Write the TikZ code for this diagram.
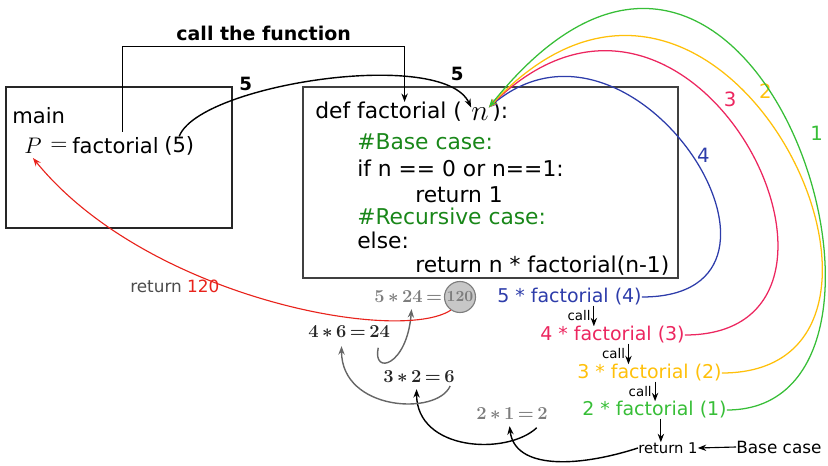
\documentclass[tikz,border=0pt]{standalone}
\usepackage{fix-cm}
\usepackage{amsmath}
\usepackage{fontspec}
\setmainfont{DejaVu Sans}
\usepackage{tikz}
\usetikzlibrary{arrows.meta,positioning,calc}
\usepackage{xcolor}

\definecolor{callblue}{RGB}{45,60,170}
\definecolor{callpink}{RGB}{236,38,95}
\definecolor{callgold}{RGB}{255,192,10}
\definecolor{callgreen}{RGB}{55,190,55}
\definecolor{cmtgreen}{RGB}{25,135,25}
\definecolor{retred}{RGB}{232,35,28}
\definecolor{mathgray}{RGB}{125,125,125}

\newcommand{\tightops}[1]{$\medmuskip=3mu\relax\thickmuskip=3mu\relax #1$}

\begin{document}
\begin{tikzpicture}[x=0.025cm, y=-0.025cm, >={Stealth[length=6pt,width=4.5pt]},
  txt/.style={inner sep=0pt, anchor=west, font=\fontsize{15}{18}\selectfont},
  code/.style={txt, font=\fontsize{15.5}{18}\selectfont},
  calltxt/.style={txt, font=\fontsize{13.5}{16}\selectfont},
  small/.style={font=\fontsize{9.5}{11}\selectfont, inner sep=2pt},
  mathtxt/.style={inner sep=0pt, anchor=west, font=\fontsize{13}{15}\selectfont\boldmath},
  num/.style={font=\fontsize{14}{16}\selectfont},
  arc/.style={->, line width=0.9pt},
  back/.style={->, line width=1pt}]
  \useasboundingbox (0,0) rectangle (828,466);

  \node[draw=black!85, line width=1.4pt, minimum width=5.65cm, minimum height=3.525cm] (mainbox) at (119,157.5) {};
  \node[draw=black!75, line width=1.4pt, minimum width=9.375cm, minimum height=4.75cm] (funcbox) at (490.5,182.5) {};

  \node[txt] (mainlbl) at (12,116) {main};
  \node[txt, font=\fontsize{16}{18}\selectfont] (pvar) at (24,146) {$P$};
  \node[txt, font=\fontsize{16}{18}\selectfont] (eqsign) at (50,146) {$=$};
  \node[txt] (fcall) at (72,146) {factorial};
  \node[txt] (arg) at (164,146) {(5)};

  \node[code] (defkw) at (315,112) {def factorial (};
  \node[inner sep=0pt, font=\fontsize{21}{24}\selectfont] (nvar) at (480,114) {$n$};
  \node[code] (defend) at (492,112) {):};
  \node[code, cmtgreen] (basecmt) at (357,142) {\#Base case:};
  \node[code] (ifline) at (357,168) {if n == 0 or n==1:};
  \node[code] (ret1) at (415,195) {return 1};
  \node[code, cmtgreen] (reccmt) at (357,216) {\#Recursive case:};
  \node[code] (elseln) at (357,240) {else:};
  \node[code] (retrec) at (415,266) {return n * factorial(n-1)};

  \draw[->, line width=1pt] ([shift={(0.18cm,0.15cm)}]fcall.north) -- ++(0,-85)
    -| node[pos=0.25, above, font=\bfseries\fontsize{13.5}{16}\selectfont] {call the function} ([xshift=0.4cm]defkw.north);
  \draw[->, line width=1pt] (arg.north) .. controls +(20,-52) and +(-28,-60) .. (nvar.north west)
    node[pos=0.3, above, font=\bfseries\fontsize{13}{15}\selectfont] {5}
    node[pos=0.85, above right, font=\bfseries\fontsize{13}{15}\selectfont] {5};

  \node[calltxt, callblue] (call4) at (497,297) {5 * factorial (4)};
  \node[calltxt, callpink] (call3) at (540,335) {4 * factorial (3)};
  \node[calltxt, callgold] (call2) at (577,373) {3 * factorial (2)};
  \node[calltxt, callgreen] (call1) at (582,410) {2 * factorial (1)};
  \node[txt, font=\fontsize{10.5}{12}\selectfont] (ret) at (638,448) {return 1};
  \node[txt, font=\fontsize{12}{14}\selectfont] (base) at (736,447) {Base case};

  \coordinate (k4) at ([xshift=0.61cm]call4.south);
  \coordinate (k3) at ([xshift=0.4cm]call3.south);
  \coordinate (k2) at ([xshift=0.14cm]call2.south);
  \coordinate (k1) at ([xshift=0.16cm]call1.south);
  \draw[->, line width=0.8pt] (k4) -- (k4 |- call3.north) node[midway, left, small] {call};
  \draw[->, line width=0.8pt] (k3) -- (k3 |- call2.north) node[midway, left, small] {call};
  \draw[->, line width=0.8pt] (k2) -- (k2 |- call1.north) node[midway, left, small] {call};
  \draw[->, line width=0.8pt] (k1) -- (k1 |- ret.north);
  \draw[->, line width=0.8pt] (base.west) -- (ret.east);

  \draw[arc, callblue] (call4.east) .. controls +(190,0) and +(147,-124) .. (nvar.north east)
    node[pos=0.5, right=0pt, num] {4};
  \draw[arc, callpink] (call3.east) .. controls +(218,0) and +(207,-204) .. (nvar.north east)
    node[pos=0.6, right=6pt, num] {3};
  \draw[arc, callgold] (call2.east) .. controls +(240,0) and +(237,-254) .. (nvar.north east)
    node[pos=0.6, right=8pt, num] {2};
  \draw[arc, callgreen] (call1.east) .. controls +(225,0) and +(267,-334) .. (nvar.north east)
    node[pos=0.5, right=9pt, num] {1};

  \node[circle, draw=mathgray, fill=black!22, line width=0.8pt, minimum size=0.775cm, inner sep=0pt,
    font=\fontsize{11}{13}\selectfont\boldmath, text=mathgray] (c120) at (460,297) {$120$};
  \node[mathtxt, mathgray, left=1pt of c120] (m5) {\tightops{5*24=}};
  \node[mathtxt, black!85] (m4) at (308,332) {\tightops{4*6=24}};
  \node[mathtxt, black!85] (m3) at (383,377) {\tightops{3*2=6}};
  \node[mathtxt, mathgray] (m2) at (476,414) {\tightops{2*1=2}};
  \node[txt, font=\fontsize{12}{14}\selectfont] (retlbl) at (130,286) {\textcolor{black!70}{return} \textcolor{retred}{120}};

  \draw[back] (ret.west) .. controls +(-62,20) and +(5,43) .. ([shift={(-0.06cm,-0.15cm)}]m2.south);
  \draw[back] ([shift={(-0.28cm,-0.19cm)}]m2.south east) .. controls +(-30,28) and +(0,62) .. ([shift={(-0.06cm,-0.15cm)}]m3.south);
  \draw[back, black!60] ([shift={(-0.12cm,-0.07cm)}]m3.south east) .. controls +(-13,30) and +(0,65) .. ([shift={(-0.19cm,-0.2cm)}]m4.south);
  \draw[back, black!60] ([shift={(-0.3cm,-0.24cm)}]m4.south east) .. controls +(-6,28) and +(-4.5,57) .. ([shift={(0.08cm,-0.15cm)}]m5.south);
  \draw[->, retred, line width=0.8pt] (c120.235) .. controls +(-52,34) and +(114,140) .. ([yshift=-0.1cm]pvar.south);
\end{tikzpicture}
\end{document}
